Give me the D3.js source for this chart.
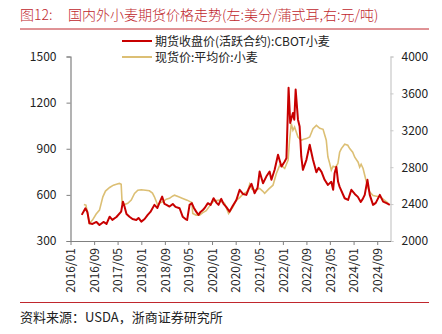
<!DOCTYPE html>
<html>
<head>
<meta charset="utf-8">
<script src="https://cdn.jsdelivr.net/npm/d3@7"></script>
<style>
  body { margin: 0; background: #fff; }
  svg { display: block; }
  text { font-family: "Noto Sans CJK SC", "Noto Sans", sans-serif; }
</style>
</head>
<body>
<svg id="chart" width="442" height="334"></svg>
<script>
// CBOT wheat, cents/bushel (left axis)
var futDates = ["2016-04-26","2016-06-03","2016-06-23","2016-07-14","2016-08-15","2016-09-25","2016-10-26","2016-12-06",
  "2017-01-07","2017-02-08","2017-03-08","2017-04-19","2017-06-07","2017-06-25","2017-07-10","2017-08-01","2017-09-01",
  "2017-10-02","2017-11-10","2017-12-03","2018-01-01","2018-02-04","2018-03-08","2018-04-05","2018-05-16","2018-06-16",
  "2018-07-07","2018-08-04","2018-08-28","2018-09-18","2018-10-19","2018-11-22","2018-12-20","2019-01-31","2019-03-04",
  "2019-04-02","2019-04-19","2019-05-14","2019-06-06","2019-06-28","2019-07-21","2019-08-14","2019-09-04","2019-09-28",
  "2019-10-15","2019-11-19","2019-12-17","2020-01-17","2020-02-17","2020-03-08","2020-04-05","2020-04-29","2020-05-26",
  "2020-06-30","2020-08-01","2020-09-08","2020-10-12","2020-11-15","2020-12-20","2021-01-14","2021-02-11","2021-03-15",
  "2021-04-15","2021-05-06","2021-06-10","2021-07-14","2021-08-17","2021-09-05","2021-10-08","2021-11-12","2021-12-17",
  "2022-01-20","2022-02-07","2022-03-01","2022-03-18","2022-04-01","2022-04-15","2022-04-29","2022-05-13","2022-06-06",
  "2022-06-23","2022-07-10","2022-07-27","2022-09-01","2022-10-05","2022-11-08","2022-12-13","2023-01-06","2023-02-04",
  "2023-03-08","2023-04-11","2023-05-16","2023-06-04","2023-06-19","2023-07-07","2023-07-25","2023-08-10","2023-10-01",
  "2023-11-05","2023-12-09","2024-01-13","2024-02-14","2024-03-15","2024-04-05","2024-04-25","2024-05-23","2024-06-16",
  "2024-07-20","2024-08-17","2024-09-28","2024-11-01","2024-12-06","2025-01-09"];
var futValues = [470,513,489,415,411,424,404,424,
  411,458,437,456,491,556,528,476,458,
  443,437,450,426,443,470,489,535,515,
  548,589,541,535,524,541,522,513,458,
  443,437,535,546,515,491,470,489,502,
  513,546,535,578,548,535,574,541,522,
  491,528,567,633,606,600,639,672,611,
  646,752,676,719,752,698,763,861,784,
  817,839,1296,1067,1102,1133,1089,1285,1089,
  1045,850,763,828,926,828,747,776,750,
  698,665,685,633,741,782,685,652,578,
  567,633,606,587,554,574,600,698,600,
  535,548,600,556,546,535];

// spot wheat average price, yuan/ton (right axis)
var spotDates = ["2016-05-18","2016-06-08","2016-06-23","2016-07-14","2016-08-15","2016-09-22","2016-10-26","2016-11-30",
  "2016-12-27","2017-02-08","2017-03-19","2017-04-19","2017-05-20","2017-06-07","2017-06-17","2017-07-10","2017-08-14",
  "2017-09-19","2017-10-23","2017-11-26","2018-01-01","2018-02-14","2018-03-25","2018-04-26","2018-05-16","2018-06-19",
  "2018-07-07","2018-08-11","2018-09-15","2018-10-19","2018-11-19","2018-12-10","2019-01-21","2019-03-04","2019-04-19",
  "2019-06-06","2019-06-16","2019-07-21","2019-08-25","2019-09-28","2019-11-02","2019-12-06","2020-01-10","2020-02-14",
  "2020-03-18","2020-04-13","2020-05-09","2020-06-20","2020-08-04","2020-09-08","2020-10-12","2020-11-15","2020-12-20",
  "2021-01-06","2021-01-24","2021-02-14","2021-03-25","2021-05-06","2021-06-06","2021-06-27","2021-08-07","2021-09-21",
  "2021-10-26","2021-11-30","2021-12-25","2022-01-20","2022-02-24","2022-03-11","2022-03-29","2022-04-15","2022-05-02",
  "2022-06-06","2022-07-10","2022-08-04","2022-09-01","2022-10-05","2022-11-08","2022-12-13","2023-01-17","2023-02-20",
  "2023-03-25","2023-04-11","2023-04-29","2023-05-16","2023-06-04","2023-06-30","2023-07-23","2023-08-10","2023-08-28",
  "2023-10-01","2023-11-02","2023-11-22","2023-12-23","2024-01-13","2024-02-17","2024-03-04","2024-03-19","2024-04-08",
  "2024-04-25","2024-05-12","2024-05-29","2024-06-16","2024-07-20","2024-08-24","2024-09-28","2024-11-01","2024-12-06",
  "2024-12-23"];
var spotValues = [2395,2389,2313,2191,2227,2292,2335,2479,
  2541,2580,2605,2616,2624,2616,2408,2395,2408,
  2443,2516,2551,2555,2551,2544,2519,2479,2389,
  2411,2425,2454,2462,2486,2497,2479,2462,2443,
  2418,2299,2281,2281,2308,2328,2378,2425,2438,
  2443,2422,2408,2299,2371,2443,2470,2508,2530,
  2551,2616,2562,2551,2570,2541,2516,2562,2605,
  2732,2822,2811,2786,2876,3092,3272,3200,3236,
  3127,3092,3103,3110,3127,3218,3254,3222,3211,
  3092,2911,2843,2768,2811,2800,2840,2962,3002,
  3049,3038,3002,2962,2908,2854,2800,2832,2786,
  2713,2641,2573,2530,2492,2486,2479,2454,2425,
  2408];

var xTicks = ["2016/01","2016/09","2017/05","2018/01","2018/09","2019/05","2020/01",
  "2020/09","2021/05","2022/01","2022/09","2023/05","2024/01","2024/09"];
var leftTicks = [300, 600, 900, 1200, 1500];
var rightTicks = [2000, 2400, 2800, 3200, 3600, 4000];

var seriesNames = ["期货收盘价(活跃合约):CBOT小麦", "现货价:平均价:小麦"];
var colors = ["#c80000", "#dcbf74"];

var parse = d3.timeParse("%Y-%m-%d");
var parseM = d3.timeParse("%Y/%m");
var fut = futDates.map(function(d, i) { return {date: parse(d), value: futValues[i]}; });
var spot = spotDates.map(function(d, i) { return {date: parse(d), value: spotValues[i]}; });

var svg = d3.select("#chart");
var plotTop = 56.5, plotBottom = 241, plotLeft = 70.5, plotRight = 390.5;

var x = d3.scaleTime()
    .domain([parseM("2016/01"), parse("2025-01-16")])
    .range([plotLeft, plotRight]);
var yL = d3.scaleLinear().domain([300, 1500]).range([plotBottom, plotTop]);
var yR = d3.scaleLinear().domain([2000, 4000]).range([plotBottom, plotTop]);

// title
var title = svg.append("text")
    .attr("y", 19.5)
    .attr("fill", "#c0272d")
    .attr("font-size", 14)
    .attr("font-weight", 300);
title.append("tspan").attr("x", 20).text("图12:");
title.append("tspan").attr("x", 68).text("国内外小麦期货价格走势(左:美分/蒲式耳,右:元/吨)");
svg.append("line")
    .attr("x1", 20).attr("x2", 429).attr("y1", 29).attr("y2", 29)
    .attr("stroke", "#c0272d").attr("stroke-width", 1);

// legend
seriesNames.forEach(function(name, i) {
    var ly = 41 + i * 16;
    svg.append("line")
        .attr("x1", 122).attr("x2", 152).attr("y1", ly).attr("y2", ly)
        .attr("stroke", colors[i]).attr("stroke-width", 2);
    svg.append("text")
        .attr("x", 155).attr("y", ly + 4.5)
        .attr("font-size", 12).attr("fill", "#222")
        .text(name);
});

// axes
var gl = svg.append("g")
    .attr("transform", "translate(" + plotLeft + ",0)")
    .call(d3.axisLeft(yL).tickValues(leftTicks).tickFormat(d3.format("d")).tickSize(4).tickPadding(10));
gl.select(".domain").attr("stroke", "#808080").attr("stroke-width", 1.2);
gl.selectAll(".tick line").attr("stroke", "#808080");
gl.selectAll("text").attr("font-size", 12).attr("fill", "#222")
    .attr("font-family", "Noto Sans, sans-serif");

var gr = svg.append("g")
    .attr("transform", "translate(" + plotRight + ",0)")
    .call(d3.axisRight(yR).tickValues(rightTicks).tickFormat(d3.format("d")).tickSize(3).tickPadding(8));
gr.select(".domain").attr("stroke", "#c8c8c8").attr("stroke-width", 1.2);
gr.selectAll(".tick line").attr("stroke", "#c8c8c8");
gr.selectAll("text").attr("font-size", 12).attr("fill", "#222")
    .attr("font-family", "Noto Sans, sans-serif");

var gx = svg.append("g")
    .attr("transform", "translate(0," + plotBottom + ")")
    .call(d3.axisBottom(x).tickValues(xTicks.map(parseM)).tickFormat(d3.timeFormat("%Y/%m"))
        .tickSize(4).tickSizeOuter(0));
gx.select(".domain").attr("stroke", "#808080").attr("stroke-width", 1.2);
gx.selectAll(".tick line").attr("stroke", "#808080");
gx.selectAll("text")
    .attr("font-size", 12).attr("fill", "#222")
    .attr("font-family", "Noto Sans, sans-serif")
    .attr("transform", "rotate(-90)")
    .attr("text-anchor", "end")
    .attr("x", -7).attr("y", 0).attr("dy", "0.35em");

// lines
var lineL = d3.line().x(function(d) { return x(d.date); }).y(function(d) { return yL(d.value); });
var lineR = d3.line().x(function(d) { return x(d.date); }).y(function(d) { return yR(d.value); });

svg.append("path").datum(spot)
    .attr("d", lineR).attr("fill", "none")
    .attr("stroke", colors[1]).attr("stroke-width", 1.6);
svg.append("path").datum(fut)
    .attr("d", lineL).attr("fill", "none")
    .attr("stroke", colors[0]).attr("stroke-width", 2)
    .attr("stroke-linejoin", "round");

// footer
svg.append("line")
    .attr("x1", 20).attr("x2", 429).attr("y1", 302.5).attr("y2", 302.5)
    .attr("stroke", "#c0272d").attr("stroke-width", 1);
svg.append("text")
    .attr("x", 20).attr("y", 322)
    .attr("font-size", 13).attr("fill", "#222")
    .text("资料来源：USDA，浙商证券研究所");
</script>
</body>
</html>
